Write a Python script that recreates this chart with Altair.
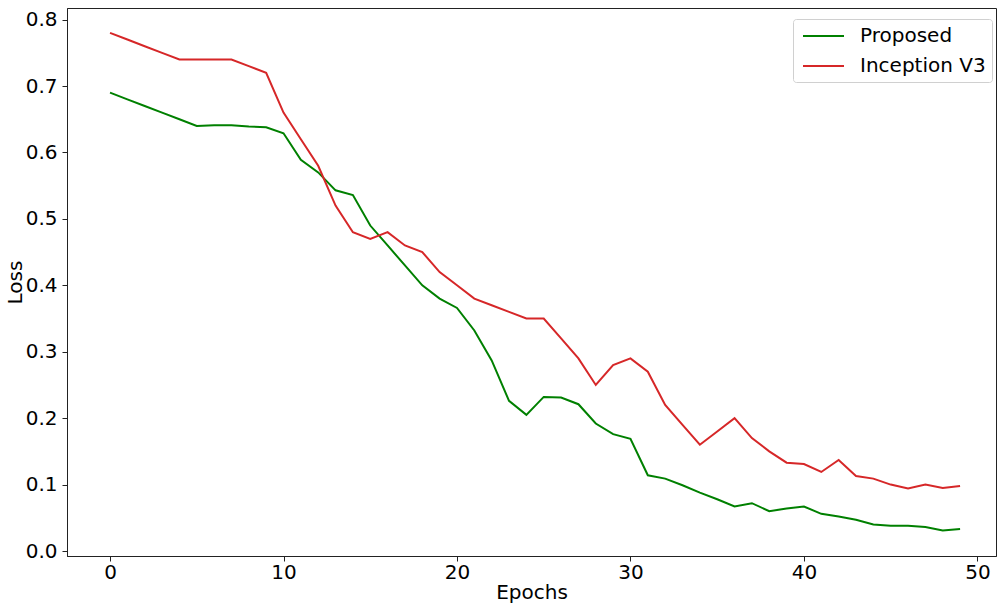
import altair as alt
import pandas as pd

epochs = list(range(50))
proposed = [0.69, 0.68, 0.67, 0.66, 0.65, 0.64, 0.641, 0.641, 0.639, 0.638,
            0.629, 0.589, 0.570, 0.543, 0.536, 0.490, 0.460, 0.430, 0.400, 0.380,
            0.366, 0.332, 0.287, 0.226, 0.205, 0.232, 0.231, 0.221, 0.192, 0.176,
            0.169, 0.114, 0.109, 0.099, 0.088, 0.078, 0.067, 0.072, 0.060, 0.064,
            0.067, 0.056, 0.052, 0.047, 0.040, 0.038, 0.038, 0.036, 0.031, 0.033]
inception = [0.78, 0.77, 0.76, 0.75, 0.74, 0.74, 0.74, 0.74, 0.73, 0.72,
             0.66, 0.62, 0.58, 0.52, 0.48, 0.47, 0.48, 0.46, 0.45, 0.42,
             0.40, 0.38, 0.37, 0.36, 0.35, 0.35, 0.32, 0.29, 0.25, 0.28,
             0.29, 0.27, 0.22, 0.19, 0.16, 0.18, 0.20, 0.17, 0.15, 0.133,
             0.131, 0.119, 0.137, 0.113, 0.109, 0.100, 0.094, 0.100, 0.095, 0.098]
series_names = ["Proposed", "Inception V3"]
series_colors = ["#008000", "#d62728"]

df = pd.DataFrame({
    "Epochs": epochs * 2,
    "Loss": proposed + inception,
    "Series": [series_names[0]] * len(epochs) + [series_names[1]] * len(epochs),
})

x_ticks = [0, 10, 20, 30, 40, 50]
y_ticks = [0.0, 0.1, 0.2, 0.3, 0.4, 0.5, 0.6, 0.7, 0.8]

chart = alt.Chart(df).mark_line(strokeWidth=2, clip=True).encode(
    x=alt.X("Epochs:Q",
            scale=alt.Scale(domain=[-2.48, 51.07], nice=False, zero=False),
            axis=alt.Axis(values=x_ticks, format="d", title="Epochs",
                          labelPadding=1, titlePadding=0)),
    y=alt.Y("Loss:Q",
            scale=alt.Scale(domain=[-0.0075, 0.8175], nice=False),
            axis=alt.Axis(values=y_ticks, format=".1f", title="Loss",
                          labelPadding=5, titlePadding=0)),
    color=alt.Color("Series:N",
                    scale=alt.Scale(domain=series_names, range=series_colors),
                    legend=alt.Legend(title=None, orient="none",
                                      legendX=726, legendY=11,
                                      symbolType="M-0.7,0H3.4", symbolSize=400,
                                      symbolStrokeWidth=2,
                                      symbolFillColor="transparent",
                                      labelFontSize=20, labelFont="DejaVu Sans",
                                      labelColor="#000000",
                                      labelOffset=39, rowPadding=9,
                                      padding=6, strokeColor="#d0d0d0",
                                      cornerRadius=3, fillColor="white")),
).properties(
    width=929, height=548,
    autosize=alt.AutoSizeParams(type="none"),
    padding={"left": 67, "top": 8, "right": 1, "bottom": 50},
).configure_view(
    stroke="#222222", strokeWidth=1
).configure_axis(
    labelFont="DejaVu Sans", titleFont="DejaVu Sans",
    labelFontSize=20, titleFontSize=20, titleFontWeight="normal",
    labelColor="#000000", titleColor="#000000",
    domainColor="#222222", tickColor="#222222",
    tickSize=5, grid=False,
)

chart.save("out.html", embed_options={"renderer": "svg", "actions": False})
